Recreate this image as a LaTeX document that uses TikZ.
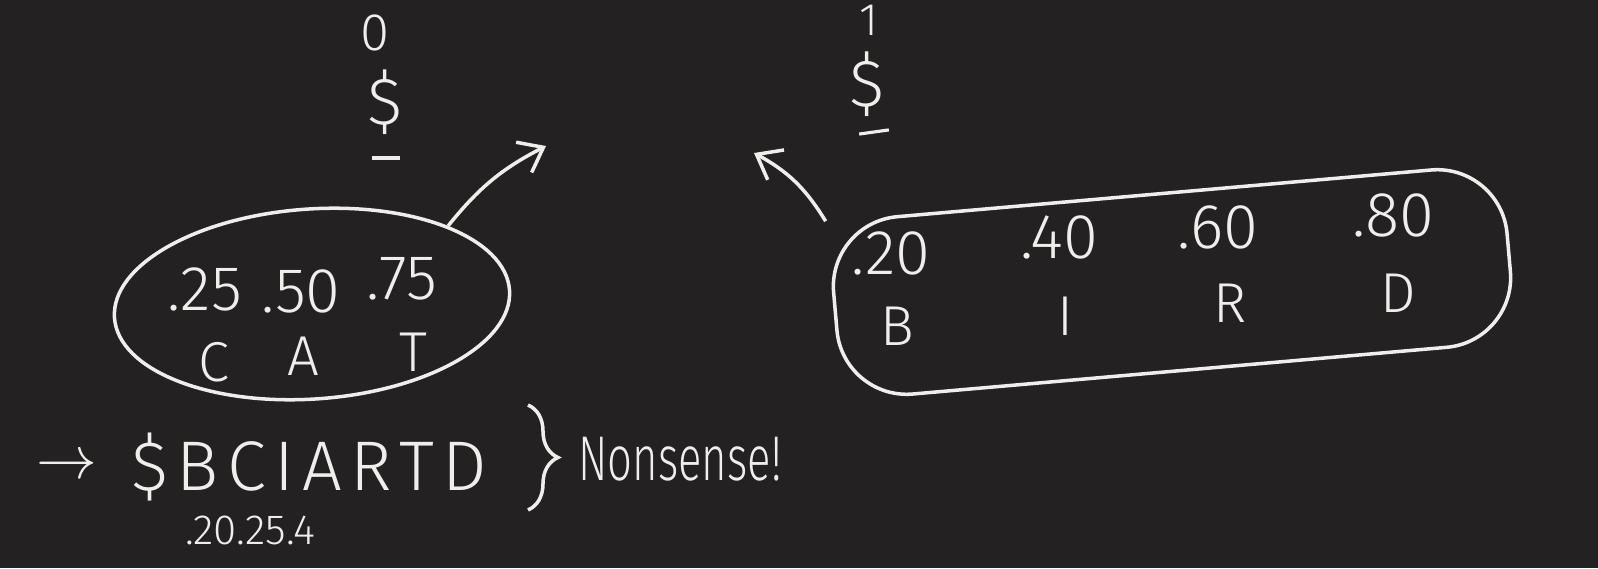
\documentclass[tikz,border=0pt]{standalone}
\usepackage{fontspec}
\setmainfont{Fira Sans Light}
\usepackage{tikz}
\usetikzlibrary{
  arrows.meta,
  positioning,
  shapes.geometric,
  decorations.pathreplacing
}
\definecolor{boardgray}{RGB}{35,33,34}
\definecolor{chalkwhite}{RGB}{238,238,236}
\tikzset{
  chalk/.style={text=chalkwhite,inner sep=1pt},
  valuetext/.style={chalk,font=\fontsize{18}{20}\selectfont},
  lettertext/.style={chalk,font=\fontsize{16}{18}\selectfont},
  topmark/.style={chalk,font=\fontsize{18}{20}\selectfont},
  setblob/.style={draw=chalkwhite,line width=1pt},
  chalkarrow/.style={-{Straight Barb[length=2.2mm,width=3.4mm]},draw=chalkwhite,line width=1pt},
}

\begin{document}
\begin{tikzpicture}[x=0.1mm,y=0.1mm]
  \fill[boardgray] (0,0) rectangle (1598,568);
  \useasboundingbox (0,0) rectangle (1598,568);

  % token sets
  \node[setblob,ellipse,minimum width=39.6mm,minimum height=19mm,rotate=4] (catset) at (312,264) {};
  \node[setblob,rectangle,rounded corners=7mm,minimum width=67.6mm,minimum height=17.8mm,rotate=5] (birdset) at (1172,286) {};

  % start tokens above the sets
  \node[topmark,font=\fontsize{15}{17}\selectfont] (zeroL) at (375,535) {0};
  \node[topmark,font=\fontsize{19}{21}\selectfont] (dollarL) at (385,466) {\$};
  \node[chalk] (barL) at (386,410) {\rule{2.8mm}{0.9pt}};
  \node[topmark,font=\fontsize{13}{15}\selectfont] (oneR) at (869,548) {1};
  \node[topmark,font=\fontsize{19}{21}\selectfont] (dollarR) at (867,484) {\$};
  \node[chalk,rotate=8] (barR) at (874,436) {\rule{3mm}{0.9pt}};

  % CAT
  \node[valuetext] (catA) at (205,279) {.25};
  \node[valuetext] (catB) at (301,277) {.50};
  \node[valuetext] (catC) at (402,289) {.75};
  \node[lettertext] (letC) at (214,206) {C};
  \node[lettertext] (letA) at (303,212) {A};
  \node[lettertext] (letT) at (413,216) {T};

  % BIRD
  \node[valuetext] (birdA) at (891,315) {.20};
  \node[valuetext] (birdB) at (1059,331) {.40};
  \node[valuetext] (birdC) at (1218,341) {.60};
  \node[valuetext] (birdD) at (1393,353) {.80};
  \node[lettertext] (letB) at (897,242) {B};
  \node[lettertext] (letI) at (1065,252) {I};
  \node[lettertext] (letR) at (1230,265) {R};
  \node[lettertext] (letD) at (1398,275) {D};

  \coordinate (catTip) at (546,422);
  \coordinate (birdTip) at (754,415);
  \draw[chalkarrow] (catset.north east) to[bend left=12] (catTip);
  \draw[chalkarrow] (birdset.north west) to[bend right=15] (birdTip);

  % merged sequence
  \node[chalk,font=\fontsize{18}{20}\selectfont] (seqarrow) at (67,101) {$\rightarrow$};
  \node[chalk,font=\fontsize{20}{22}\selectfont\addfontfeature{LetterSpace=12}] (merged) at (309,101) {\$BCIARTD};
  \node[chalk,font=\fontsize{12}{14}\selectfont] (mergedprobs) at (250,38) {.20.25.4};
  \coordinate (braceTop) at (528,163);
  \coordinate (braceBot) at (528,58);
  \draw[setblob,decorate,decoration={brace,amplitude=3mm}] (braceTop) -- (braceBot);
  \node[chalk,font=\fontsize{18}{20}\selectfont] (verdict) at (680,109) {\scalebox{0.69}[1]{Nonsense!}};
\end{tikzpicture}
\end{document}
